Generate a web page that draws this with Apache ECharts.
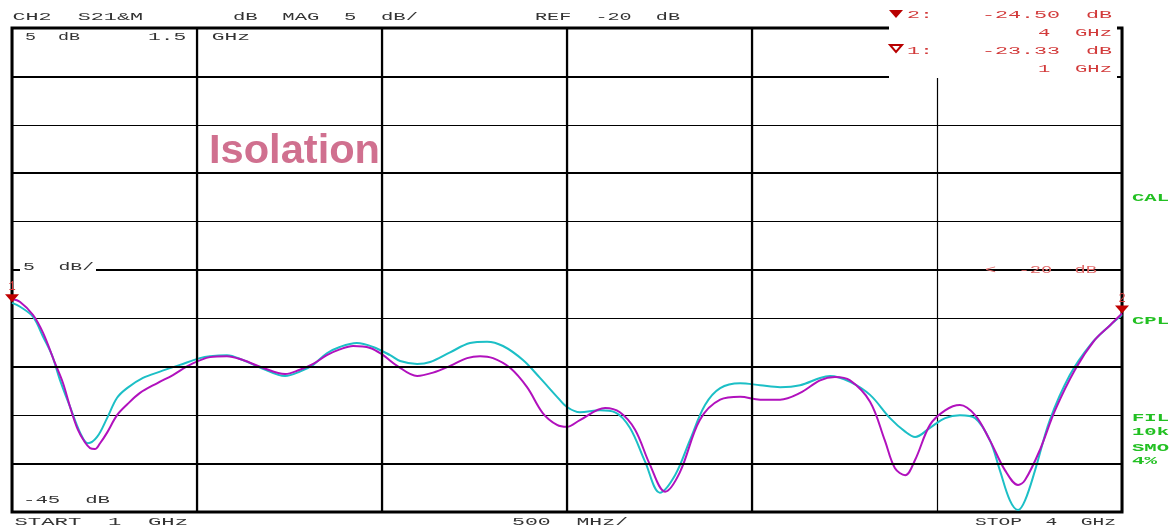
<!DOCTYPE html>
<html><head><meta charset="utf-8">
<script src="https://cdn.jsdelivr.net/npm/echarts@6/dist/echarts.min.js"></script>
<style>html,body{margin:0;padding:0;background:#fff}#c{width:1173px;height:529px}</style>
</head><body><div id="c"></div>
<script>
// ---- axis definition (GHz / dB) ----
const freqMin = 1, freqMax = 4, freqStep = 0.5;
const dbMin = -45, dbMax = 5, dbStep = 5;
const majorDbLines = [-40, -30, -20, -10, 0];
const majorFreqLines = [1.5, 2.0, 2.5, 3.0];

// ---- traces: [frequency GHz, magnitude dB] ----
const cyanTrace = [
  [1.000,-23.4],[1.022,-23.8],[1.057,-24.85],[1.084,-26.9],[1.108,-28.8],[1.130,-31.4],[1.157,-34.15],
  [1.184,-36.8],[1.205,-37.9],[1.230,-37.25],[1.257,-35.3],[1.284,-33.2],[1.311,-32.2],[1.354,-31.15],
  [1.400,-30.5],[1.454,-29.8],[1.508,-29.1],[1.535,-28.9],[1.581,-28.8],[1.624,-29.3],[1.678,-30.2],
  [1.738,-30.95],[1.778,-30.5],[1.814,-29.8],[1.851,-28.6],[1.886,-27.95],[1.932,-27.55],[1.976,-27.95],
  [2.022,-28.8],[2.049,-29.4],[2.095,-29.7],[2.130,-29.5],[2.184,-28.5],[2.238,-27.55],[2.284,-27.4],
  [2.327,-27.85],[2.381,-29.3],[2.427,-31.15],[2.473,-33.1],[2.500,-34.15],[2.535,-34.7],[2.589,-34.5],
  [2.630,-34.7],[2.670,-36.3],[2.711,-39.8],[2.751,-43.0],[2.792,-41.2],[2.832,-37.6],[2.873,-33.95],
  [2.914,-32.2],[2.968,-31.7],[3.022,-31.9],[3.076,-32.1],[3.130,-31.9],[3.184,-31.15],[3.211,-30.95],
  [3.265,-31.55],[3.319,-32.9],[3.373,-35.3],[3.414,-36.7],[3.441,-37.25],[3.481,-36.3],[3.522,-35.3],
  [3.562,-35.0],[3.603,-35.3],[3.643,-37.6],[3.670,-40.7],[3.697,-43.8],[3.719,-44.8],[3.738,-43.8],
  [3.765,-40.7],[3.805,-35.5],[3.859,-30.85],[3.914,-27.75],[3.968,-25.7],[4.000,-24.65]
];
const magentaTrace = [
  [1.000,-23.0],[1.022,-23.3],[1.057,-24.65],[1.084,-26.5],[1.116,-29.6],[1.138,-31.7],[1.157,-34.15],
  [1.178,-36.5],[1.197,-37.8],[1.211,-38.4],[1.224,-38.5],[1.238,-37.9],[1.257,-36.8],[1.284,-35.0],
  [1.311,-33.9],[1.346,-32.7],[1.392,-31.7],[1.435,-30.85],[1.481,-29.8],[1.535,-29.0],[1.581,-28.9],
  [1.624,-29.3],[1.678,-30.1],[1.738,-30.75],[1.778,-30.3],[1.814,-29.7],[1.851,-28.8],[1.886,-28.2],
  [1.922,-27.85],[1.968,-28.05],[2.003,-28.8],[2.041,-29.9],[2.095,-30.95],[2.138,-30.6],[2.184,-29.9],
  [2.230,-29.1],[2.265,-28.9],[2.300,-29.1],[2.346,-30.1],[2.392,-32.1],[2.435,-34.8],[2.473,-36.0],
  [2.500,-36.2],[2.535,-35.5],[2.603,-34.25],[2.643,-34.7],[2.684,-36.5],[2.724,-40.1],[2.765,-42.9],
  [2.805,-40.9],[2.859,-35.5],[2.914,-33.4],[2.968,-33.1],[3.022,-33.4],[3.076,-33.4],[3.130,-32.7],
  [3.184,-31.4],[3.224,-31.05],[3.265,-31.4],[3.319,-33.6],[3.359,-37.6],[3.386,-40.45],[3.414,-41.2],
  [3.441,-39.6],[3.481,-36.0],[3.522,-34.5],[3.562,-33.95],[3.603,-35.0],[3.643,-37.6],[3.684,-40.7],
  [3.719,-42.2],[3.738,-41.7],[3.778,-38.6],[3.819,-34.5],[3.873,-30.3],[3.927,-27.2],[3.968,-25.7],
  [4.000,-24.5]
];
const markers = [
  { name: '1', freq: 1, db: -23.33 },
  { name: '2', freq: 4, db: -24.50 }
];

// ---- text annotations ----
const MONO = 'Liberation Mono';
const RED = '#d23a3a', GREEN = '#22c022', GREY = '#333333';
function mono(str, x0, x1, y, color, bold) {
  const fs = 11.5;
  const w = str.length * 0.6 * fs;
  return {
    type: 'text', x: x0, y: y, scaleX: (x1 - x0) / w, z: 100, silent: true,
    style: { text: str, x: 0, y: 0, font: (bold ? 'bold ' : '') + fs + 'px "' + MONO + '"',
             fill: color, textAlign: 'left', textVerticalAlign: 'middle' }
  };
}
const graphics = [
  // marker readout box
  { type: 'rect', z: 40, silent: true, shape: { x: 889, y: 0, width: 228, height: 78 }, style: { fill: '#fff' } },
  { type: 'rect', z: 40, silent: true, shape: { x: 20, y: 262, width: 76, height: 12 }, style: { fill: '#fff' } },
  { type: 'polygon', z: 100, silent: true, shape: { points: [[889, 10], [903, 10], [896, 18]] }, style: { fill: '#b80000' } },
  { type: 'polygon', z: 100, silent: true, shape: { points: [[890, 45], [902, 45], [896, 52]] }, style: { fill: '#fff', stroke: '#b80000', lineWidth: 2 } },
  mono('CH2  S21&M', 12.5, 143, 17, GREY),
  mono('dB  MAG  5  dB/', 233, 418, 17, GREY),
  mono('REF  -20  dB', 535, 680, 17, GREY),
  mono('5  dB', 25, 80, 37, GREY),
  mono('1.5  GHz', 148, 250, 37, GREY),
  mono('5  dB/', 23, 94, 267, GREY),
  mono('-45  dB', 23, 110, 500, GREY),
  mono('START  1  GHz', 14.5, 188, 522, GREY),
  mono('500  MHz/', 512, 628, 522, GREY),
  mono('STOP  4  GHz', 975, 1116, 522, GREY),
  mono('2:', 907, 933, 15, RED),
  mono('-24.50  dB', 982, 1112, 15, RED),
  mono('4  GHz', 1038, 1112, 33, RED),
  mono('1:', 907, 933, 51, RED),
  mono('-23.33  dB', 982, 1112, 51, RED),
  mono('1  GHz', 1038, 1112, 69, RED),
  mono('<  -20  dB', 985, 1097, 270, '#e06a6a'),
  mono('CAL', 1132, 1169, 198, GREEN, true),
  mono('CPL', 1132, 1169, 321, GREEN, true),
  mono('FIL', 1132, 1169, 418, GREEN, true),
  mono('10k', 1132, 1169, 432, GREEN, true),
  mono('SMO', 1132, 1169, 448, GREEN, true),
  mono('4%', 1132, 1157, 461, GREEN, true),
  { type: 'text', x: 209, y: 152, z: 100, silent: true, scaleX: 1.04,
    style: { text: 'Isolation', font: 'bold 40px "Liberation Sans"', fill: '#d0708f', textAlign: 'left', textVerticalAlign: 'middle' } }
];

const chart = echarts.init(document.getElementById('c'), null, { renderer: 'canvas' });
chart.setOption({
  animation: false,
  backgroundColor: '#fff',
  grid: { left: 12, right: 51, top: 28, bottom: 17, show: true, borderColor: '#000', borderWidth: 3, backgroundColor: 'transparent' },
  xAxis: {
    type: 'value', min: freqMin, max: freqMax, interval: freqStep,
    axisLine: { show: false }, axisTick: { show: false }, axisLabel: { show: false },
    splitLine: { show: true, lineStyle: { color: '#000', width: 1.2 } }
  },
  yAxis: {
    type: 'value', min: dbMin, max: dbMax, interval: dbStep,
    axisLine: { show: false }, axisTick: { show: false }, axisLabel: { show: false },
    splitLine: { show: true, lineStyle: { color: '#000', width: 1.2 } }
  },
  graphic: { elements: graphics },
  series: [
    {
      type: 'line', data: [], silent: true, z: 1,
      markLine: {
        silent: true, symbol: ['none', 'none'], label: { show: false }, animation: false,
        lineStyle: { color: '#000', type: 'solid', width: 2.2 },
        data: majorDbLines.map(v => ({ yAxis: v })).concat(majorFreqLines.map(v => ({ xAxis: v })))
      }
    },
    {
      name: 'trace A', type: 'line', data: cyanTrace, showSymbol: false, smooth: 0.35, z: 3,
      lineStyle: { color: '#1cbfc6', width: 2 }, itemStyle: { color: '#1cbfc6' }
    },
    {
      name: 'trace B', type: 'line', data: magentaTrace, showSymbol: false, smooth: 0.35, z: 4,
      lineStyle: { color: '#b111bd', width: 2 }, itemStyle: { color: '#b111bd' },
      markPoint: {
        silent: true, animation: false,
        symbol: 'triangle', symbolRotate: 180, symbolSize: [14, 8], symbolOffset: [0, -4],
        itemStyle: { color: '#c00000' },
        label: { show: true, position: 'top', distance: 1, color: RED, fontFamily: MONO, fontSize: 12,
                 formatter: p => p.name },
        data: markers.map(m => ({ name: m.name, coord: [m.freq, m.db] }))
      }
    }
  ]
});
</script></body></html>
